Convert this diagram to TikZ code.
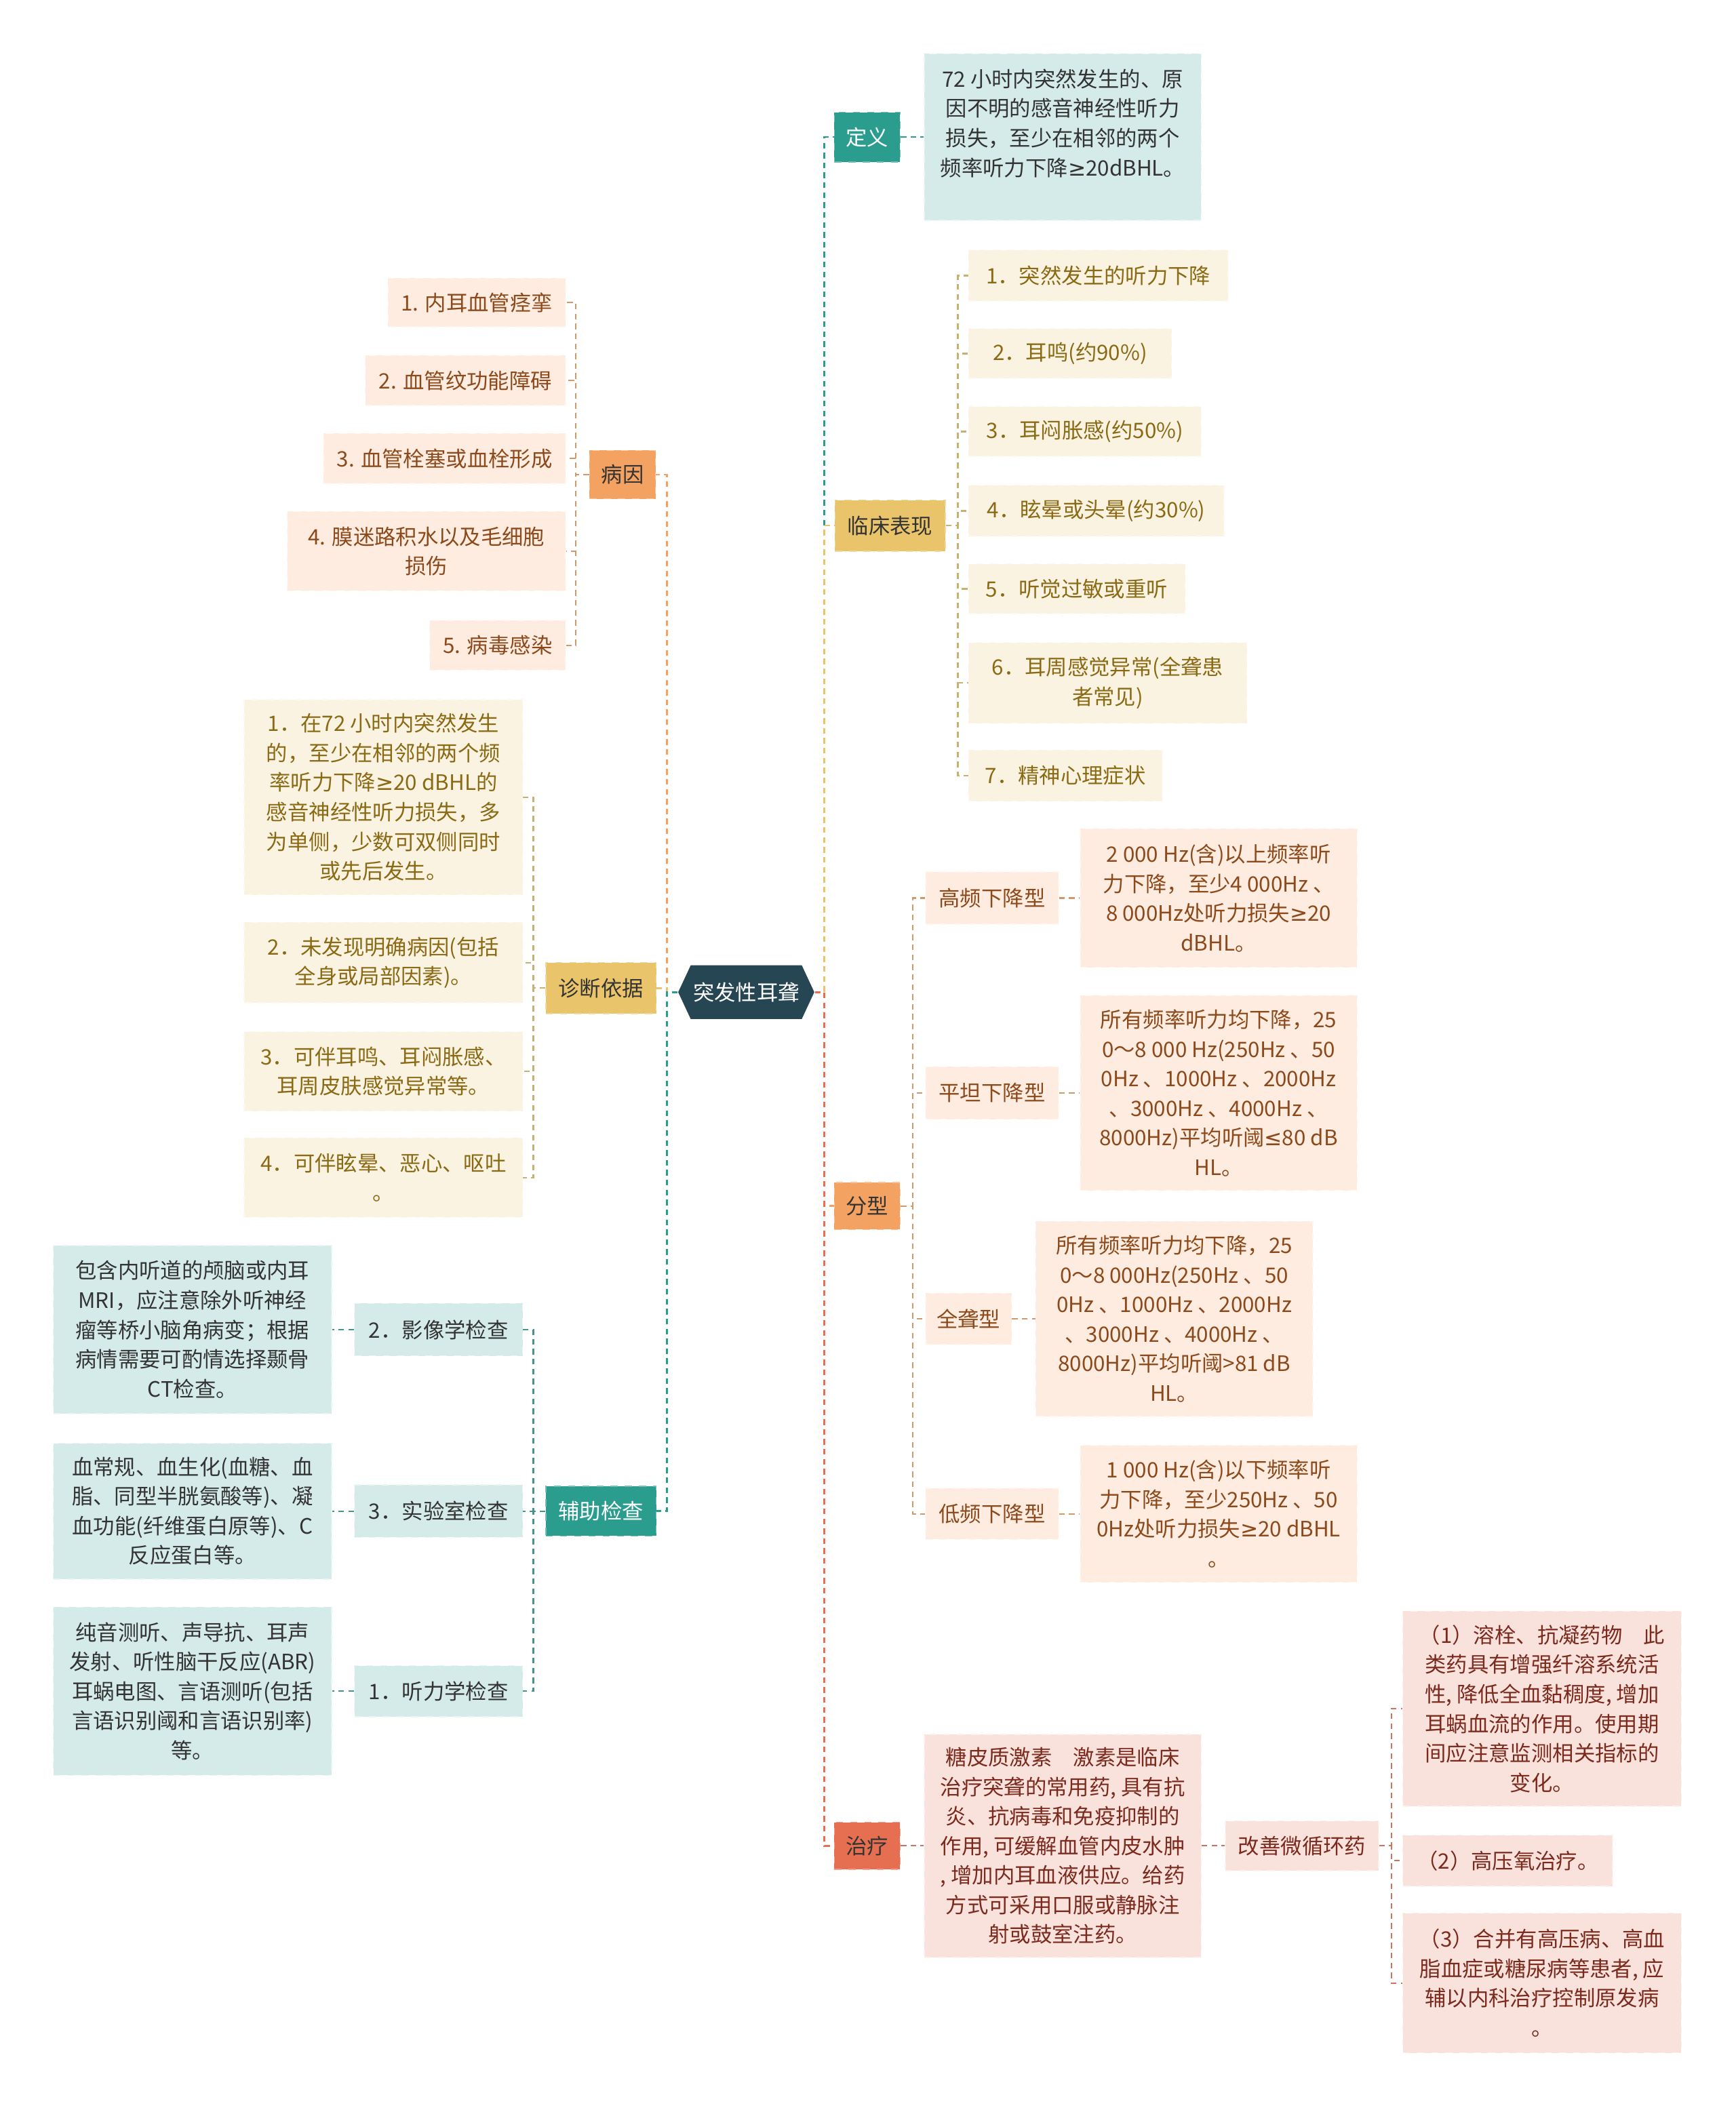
\documentclass[tikz,border=0pt]{standalone}
\usepackage{fontspec}
\setmainfont{Noto Sans CJK SC}
\newfontfamily\symfont{DejaVu Sans}
\usepackage{tikz}
\usetikzlibrary{shapes.symbols}
\definecolor{cRoot}{HTML}{264653}
\definecolor{cTeal}{HTML}{2A9D8F}
\definecolor{cGold}{HTML}{E9C46A}
\definecolor{cOrange}{HTML}{F4A261}
\definecolor{cRed}{HTML}{E76F51}
\definecolor{cInk}{HTML}{333333}
\definecolor{cInkGold}{HTML}{8A6A14}
\definecolor{cInkOrange}{HTML}{8C4A1C}
\definecolor{cInkRed}{HTML}{7B2A1E}
\newcommand{\gesym}{{\symfont ≥}}
\newcommand{\lesym}{{\symfont ≤}}
\tikzset{
	wh/.style 2 args={minimum width=#1*0.02cm, minimum height=#2*0.02cm},
	rootnode/.style={signal, signal to=west and east, signal pointer angle=130, fill=cRoot, text=white, inner sep=1pt},
	topic/.style={rectangle, fill=#1, draw=#1!65!white, dashed, align=center, inner sep=1pt, text=cInk},
	leaf/.style={rectangle, fill=#1!20, draw=#1!10, dashed, align=center, inner sep=2pt},
	tealleaf/.style={leaf=cTeal, text=cInk},
	goldleaf/.style={leaf=cGold, text=cInkGold},
	orangeleaf/.style={leaf=cOrange, text=cInkOrange},
	redleaf/.style={leaf=cRed, text=cInkRed},
	link/.style={draw=#1, line width=0.7pt, dash pattern=on 2.4pt off 1.8pt},
	sublink/.style={draw=#1!70!gray, line width=0.6pt, dash pattern=on 2.4pt off 1.8pt},
}

\begin{document}
\begin{tikzpicture}[x=0.02cm, y=-0.02cm, font=\fontsize{9pt}{12.5pt}\selectfont]
	\useasboundingbox (0,0) rectangle (1291,1568);
	% centre
	\node[rootnode, wh={100}{40}] (root) at (555,738) {突发性耳聋};

	% right: definition
	\node[topic=cTeal, text=white, wh={49}{37}] (def) at (645,102) {定义};
	\node[tealleaf, wh={206}{124}, anchor=west] (defT) at (687,102) {72 小时内突然发生的、原\\因不明的感音神经性听力\\损失，至少在相邻的两个\\频率听力下降\gesym 20dBHL。\\\mbox{}};

	% right: clinical signs
	\node[topic=cGold, wh={82}{38}] (clin) at (662,391) {临床表现};
	\foreach \n/\y/\w/\h/\t in {
		c1/205/193/38/{1．突然发生的听力下降},
		c2/263/151/37/{2．耳鸣(约90\%)},
		c3/321/173/37/{3．耳闷胀感(约50\%)},
		c4/380/190/38/{4．眩晕或头晕(约30\%)},
		c5/438/161/37/{5．听觉过敏或重听},
		c6/508/207/60/{6．耳周感觉异常(全聋患\\者常见)},
		c7/577/144/38/{7．精神心理症状}}
	{
		\node[goldleaf, wh={\w}{\h}, anchor=west] (\n) at (720,\y) {\t};
		\draw[sublink=cGold] (clin.east) -- ++(9,0) |- (\n.west);
	}

	% right: types
	\node[topic=cOrange, wh={49}{35}] (type) at (645,897) {分型};
	\node[orangeleaf, wh={99}{39}, anchor=west] (t1) at (688,668) {高频下降型};
	\node[orangeleaf, wh={206}{103}, anchor=west] (t1d) at (803,668) {2 000 Hz(含)以上频率听\\力下降，至少4 000Hz 、\\8 000Hz处听力损失\gesym 20\\dBHL。};
	\node[orangeleaf, wh={99}{39}, anchor=west] (t2) at (688,813) {平坦下降型};
	\node[orangeleaf, wh={206}{145}, anchor=west] (t2d) at (803,813) {所有频率听力均下降，25\\0～8 000 Hz(250Hz 、50\\0Hz 、1000Hz 、2000Hz\\、3000Hz 、4000Hz 、\\8000Hz)平均听阈\lesym 80 dB\\HL。};
	\node[orangeleaf, wh={64}{38}, anchor=west] (t3) at (688,981) {全聋型};
	\node[orangeleaf, wh={206}{145}, anchor=west] (t3d) at (770,981) {所有频率听力均下降，25\\0～8 000Hz(250Hz 、50\\0Hz 、1000Hz 、2000Hz\\、3000Hz 、4000Hz 、\\8000Hz)平均听阈>81 dB\\HL。};
	\node[orangeleaf, wh={99}{38}, anchor=west] (t4) at (688,1126) {低频下降型};
	\node[orangeleaf, wh={206}{102}, anchor=west] (t4d) at (803,1126) {1 000 Hz(含)以下频率听\\力下降，至少250Hz 、50\\0Hz处听力损失\gesym 20 dBHL\\。};
	\foreach \n in {t1,t2,t3,t4}
	{
		\draw[sublink=cOrange] (type.east) -- ++(9,0) |- (\n.west);
		\draw[sublink=cOrange] (\n.east) -- (\n d.west);
	}

	% right: treatment
	\node[topic=cRed, wh={49}{35}] (treat) at (645,1373) {治疗};
	\node[redleaf, wh={206}{166}, anchor=west] (drug) at (687,1373) {糖皮质激素\quad 激素是临床\\治疗突聋的常用药, 具有抗\\炎、抗病毒和免疫抑制的\\作用, 可缓解血管内皮水肿\\, 增加内耳血液供应。给药\\方式可采用口服或静脉注\\射或鼓室注药。};
	\node[redleaf, wh={114}{37}, anchor=west] (micro) at (911,1373) {改善微循环药};
	\node[redleaf, wh={207}{145}, anchor=west] (m1) at (1043,1271) {（1）溶栓、抗凝药物\quad 此\\类药具有增强纤溶系统活\\性, 降低全血黏稠度, 增加\\耳蜗血流的作用。使用期\\间应注意监测相关指标的\\变化。};
	\node[redleaf, wh={156}{38}, anchor=west] (m2) at (1043,1384) {（2）高压氧治疗。};
	\node[redleaf, wh={207}{104}, anchor=west] (m3) at (1043,1475) {（3）合并有高压病、高血\\脂血症或糖尿病等患者, 应\\辅以内科治疗控制原发病\\。};
	\draw[sublink=cRed] (treat.east) -- (drug.west);
	\draw[sublink=cRed] (drug.east) -- (micro.west);
	\foreach \n in {m1,m2,m3}
		\draw[sublink=cRed] (micro.east) -- ++(9,0) |- (\n.west);

	% left: causes
	\node[topic=cOrange, wh={49}{36}] (cause) at (463,353) {病因};
	\foreach \n/\y/\w/\h/\t in {
		k1/225/132/36/{1. 内耳血管痉挛},
		k2/283/149/37/{2. 血管纹功能障碍},
		k3/341/180/37/{3. 血管栓塞或血栓形成},
		k4/410/207/59/{4. 膜迷路积水以及毛细胞\\损伤},
		k5/480/101/37/{5. 病毒感染}}
	{
		\node[orangeleaf, wh={\w}{\h}, anchor=east] (\n) at (421,\y) {\t};
		\draw[sublink=cOrange] (cause.west) -- ++(-10,0) |- (\n.east);
	}

	% left: diagnosis
	\node[topic=cGold, wh={82}{38}] (diag) at (447,735) {诊断依据};
	\foreach \n/\y/\h/\t in {
		d1/593/145/{1．在72 小时内突然发生\\的，至少在相邻的两个频\\率听力下降\gesym 20 dBHL的\\感音神经性听力损失，多\\为单侧，少数可双侧同时\\或先后发生。},
		d2/716/60/{2．未发现明确病因(包括\\全身或局部因素)。},
		d3/797/59/{3．可伴耳鸣、耳闷胀感、\\耳周皮肤感觉异常等。},
		d4/876/59/{4．可伴眩晕、恶心、呕吐\\。}}
	{
		\node[goldleaf, wh={207}{\h}, anchor=east] (\n) at (389,\y) {\t};
		\draw[sublink=cGold] (diag.west) -- ++(-9,0) |- (\n.east);
	}

	% left: auxiliary tests
	\node[topic=cTeal, text=white, wh={82}{37}] (aux) at (447,1124) {辅助检查};
	\node[tealleaf, wh={125}{39}, anchor=east] (a2) at (389,989) {2．影像学检查};
	\node[tealleaf, wh={207}{125}, anchor=east] (a2d) at (247,989) {包含内听道的颅脑或内耳\\MRI，应注意除外听神经\\瘤等桥小脑角病变；根据\\病情需要可酌情选择颞骨\\CT检查。};
	\node[tealleaf, wh={125}{39}, anchor=east] (a3) at (389,1124) {3．实验室检查};
	\node[tealleaf, wh={207}{101}, anchor=east] (a3d) at (247,1124) {血常规、血生化(血糖、血\\脂、同型半胱氨酸等)、凝\\血功能(纤维蛋白原等)、C\\反应蛋白等。};
	\node[tealleaf, wh={125}{38}, anchor=east] (a1) at (389,1258) {1．听力学检查};
	\node[tealleaf, wh={207}{125}, anchor=east] (a1d) at (247,1258) {纯音测听、声导抗、耳声\\发射、听性脑干反应(ABR)\\耳蜗电图、言语测听(包括\\言语识别阈和言语识别率)\\等。};
	\foreach \n in {a2,a3,a1}
	{
		\draw[sublink=cTeal] (aux.west) -- ++(-9,0) |- (\n.east);
		\draw[sublink=cTeal] (\n.west) -- (\n d.east);
	}

	% main branches
	\draw[link=cTeal] (root.east) -- ++(7,0) |- (def.west);
	\draw[link=cGold] (root.east) -- ++(7,0) |- (clin.west);
	\draw[link=cOrange] (root.east) -- ++(7,0) |- (type.west);
	\draw[link=cRed] (root.east) -- ++(7,0) |- (treat.west);
	\draw[link=cTeal] (def.east) -- (defT.west);
	\draw[link=cOrange] (root.west) -- ++(-8,0) |- (cause.east);
	\draw[link=cGold] (root.west) -- ++(-8,0) |- (diag.east);
	\draw[link=cTeal] (root.west) -- ++(-8,0) |- (aux.east);
\end{tikzpicture}
\end{document}
